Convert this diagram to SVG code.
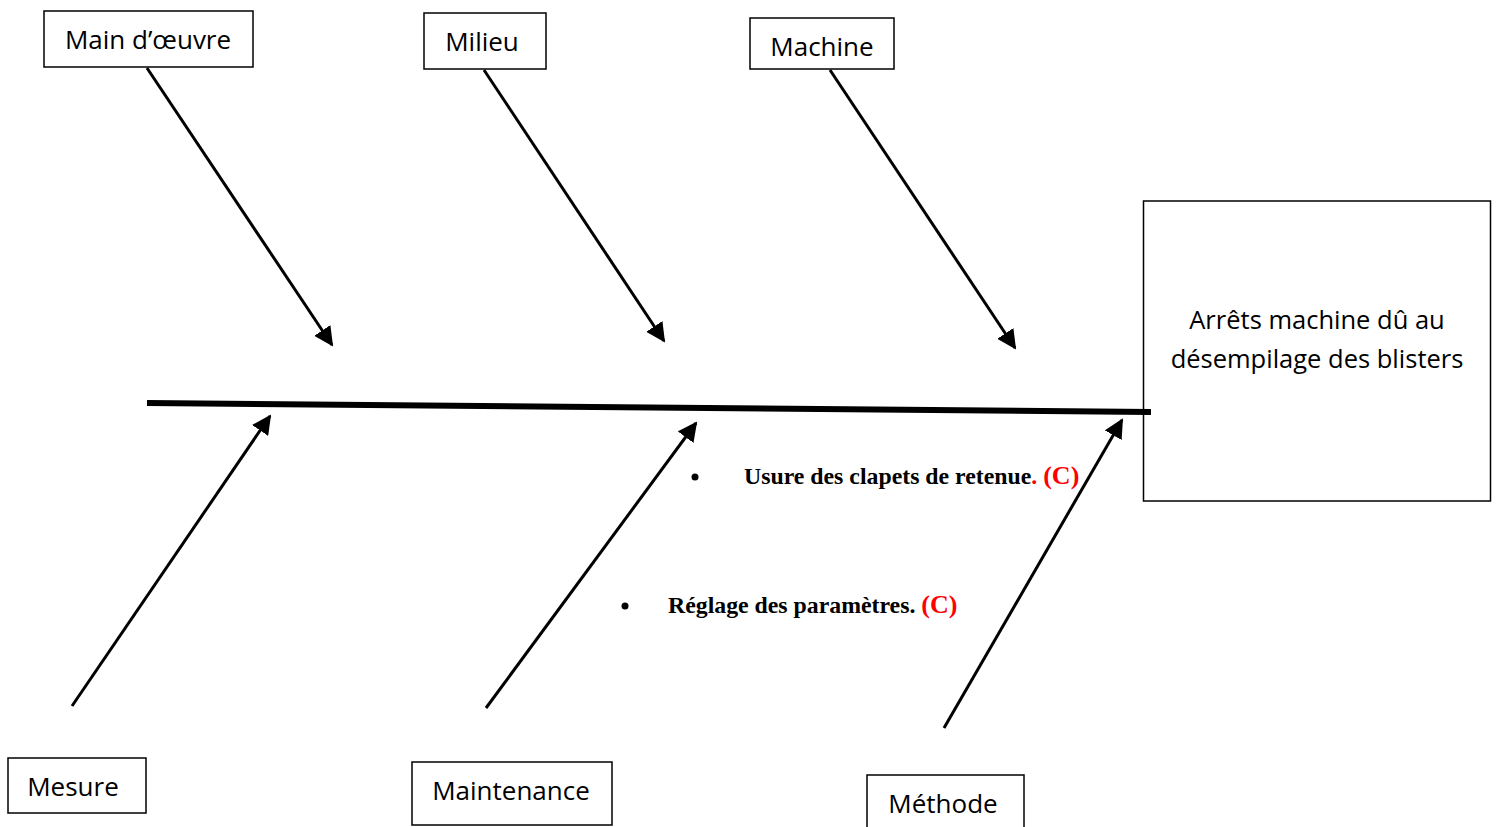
<svg xmlns="http://www.w3.org/2000/svg" width="1500" height="827" viewBox="0 0 1500 827">
<style>
.box{fill:#fff;stroke:#000;stroke-width:1.5}
.lbl{font-family:"Open Sans","Liberation Sans",sans-serif;font-size:26px;fill:#000;text-anchor:middle}
.big{font-size:25.5px}
.bone{stroke:#000;stroke-width:3;fill:none;marker-end:url(#ah)}
.cause{font-family:"Liberation Serif","Times New Roman",serif;font-size:23.8px;font-weight:bold;fill:#000}
.red{fill:#ff0000}
.cc{font-size:26px}
</style>
<defs>
<marker id="ah" viewBox="0 0 10 10" refX="9" refY="5" markerWidth="6.5" markerHeight="6.5" markerUnits="strokeWidth" orient="auto">
<path d="M0,0 L10,5 L0,10 z" fill="#000"/>
</marker>
</defs>
<rect width="1500" height="827" fill="#fff"/>
<g id="effet"><rect class="box" x="1143.5" y="201" width="347" height="300" stroke-width="2"/><text class="lbl big" x="1317" y="329">Arrêts machine dû au</text><text class="lbl big" x="1317" y="368">désempilage des blisters</text></g>
<g id="connectors">
<line x1="147" y1="403" x2="1151" y2="412" stroke="#000" stroke-width="6"/>
<line class="bone" x1="147" y1="68" x2="332" y2="345"/>
<line class="bone" x1="484" y1="70" x2="664" y2="341"/>
<line class="bone" x1="830" y1="70" x2="1015" y2="348"/>
<line class="bone" x1="72" y1="706" x2="270" y2="416"/>
<line class="bone" x1="486" y1="708" x2="696" y2="423"/>
<line class="bone" x1="944" y1="728" x2="1122" y2="420"/>
</g>
<g id="main-oeuvre"><rect class="box" x="44" y="11" width="209" height="56"/><text class="lbl" x="148" y="49">Main d’œuvre</text></g>
<g id="milieu"><rect class="box" x="424" y="13" width="122" height="56"/><text class="lbl" x="482" y="51">Milieu</text></g>
<g id="machine"><rect class="box" x="750" y="18" width="144" height="51"/><text class="lbl" x="822" y="56">Machine</text></g>
<g id="mesure"><rect class="box" x="8" y="758" width="138" height="55"/><text class="lbl" x="73" y="796">Mesure</text></g>
<g id="maintenance"><rect class="box" x="412" y="762" width="200" height="63"/><text class="lbl" x="511" y="800">Maintenance</text></g>
<g id="methode"><rect class="box" x="867" y="775" width="157" height="60"/><text class="lbl" x="943" y="813">Méthode</text></g>
<g id="causes">
<circle cx="695" cy="477" r="3.5" fill="#000"/>
<text class="cause" x="744" y="484">Usure des clapets de retenue<tspan class="red">. </tspan><tspan class="red cc">(C)</tspan></text>
<circle cx="625" cy="606" r="3.5" fill="#000"/>
<text class="cause" x="668" y="613">Réglage des paramètres. <tspan class="red cc">(C)</tspan></text>
</g>
</svg>
